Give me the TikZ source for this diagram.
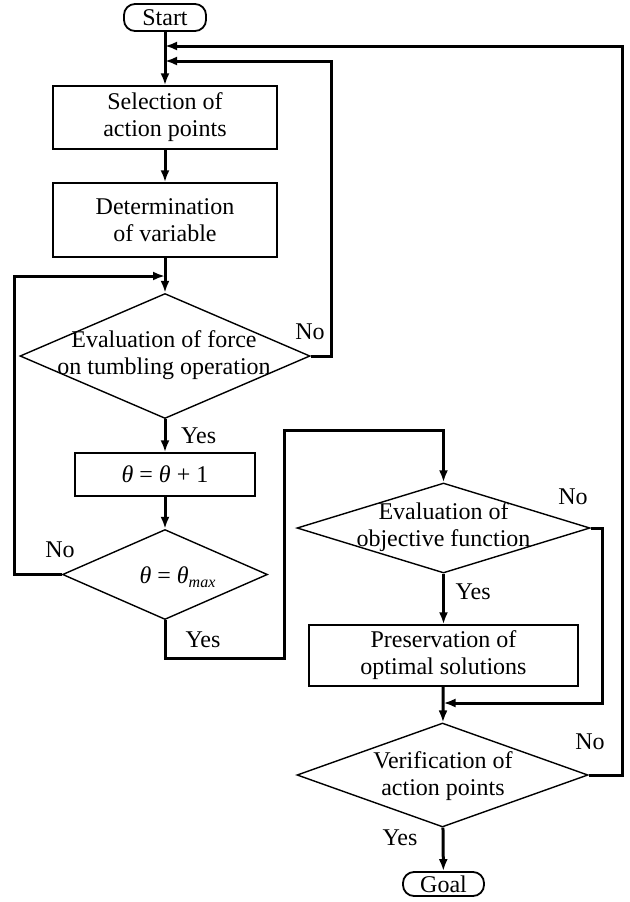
\documentclass[tikz,border=0pt]{standalone}
\usepackage{fontspec}
\setmainfont{Liberation Serif}
\usetikzlibrary{arrows.meta,shapes.geometric}

\begin{document}
\begin{tikzpicture}[x=0.5pt, y=-0.5pt, auto,
	font=\fontsize{12}{13.5}\selectfont,
	>={Latex[length=6pt,width=4.5pt]},
	terminal/.style={draw, line width=0.9pt, rounded corners=5.5pt, inner sep=0pt},
	process/.style={draw, line width=0.7pt, inner sep=0pt},
	decision/.style={diamond, draw, line width=0.7pt, inner sep=0pt},
	flow/.style={->, line width=1.5pt}]
					\useasboundingbox (0,0) rectangle (630,902);
					\node[terminal, minimum width=41pt, minimum height=13.5pt] (start) at (165,17.5) {Start};
					\node[process, minimum width=112pt, minimum height=31.5pt, align=center] (sel) at (165,117.5) {Selection of\\action points};
					\node[process, minimum width=112pt, minimum height=37pt, align=center] (det) at (165,220) {Determination\\of variable};
					\node[decision, minimum width=145pt, minimum height=62.5pt] (eva) at (165,356) {};
					\node[align=center] (evat) at (164,355) {Evaluation of force\\on tumbling operation};
					\node[process, minimum width=90pt, minimum height=21.5pt] (inc) at (165,474.5) {\textit{θ} = \textit{θ} + 1};
					\node[decision, minimum width=102.5pt, minimum height=45pt] (chk) at (165,574.5) {};
					\node (chkt) at (178,577) {\textit{θ} = \textit{θ}\textsubscript{\textit{max}}};
					\node[decision, minimum width=146.5pt, minimum height=45pt] (obj) at (443.5,528) {};
					\node[align=center] (objt) at (443.5,527) {Evaluation of\\objective function};
					\node[process, minimum width=134.5pt, minimum height=30.5pt, align=center] (pre) at (443.5,655.5) {Preservation of\\optimal solutions};
					\node[decision, minimum width=145.5pt, minimum height=52pt] (ver) at (442.5,775) {};
					\node[align=center] (vert) at (443,776) {Verification of\\action points};
					\node[terminal, minimum width=40.5pt, minimum height=12pt] (goal) at (443.5,884) {Goal};
					% labels
					\node (no1) at (310,332) {No};
					\node (no2) at (60,550) {No};
					\node (no3) at (573,497) {No};
					\node (no4) at (590,742) {No};
					\node (yes2) at (203,640) {Yes};
					\node (yes4) at (400,838) {Yes};
					% return points on the main line
					\coordinate (m1) at (165,46);
					\coordinate (m2) at (165,61);
					\coordinate (m3) at (165,276);
					\coordinate (m4) at (443.5,703);
					\draw[flow] (start) to (sel);
					\draw[flow] (sel) to (det);
					\draw[flow] (det) to (eva);
					\draw[flow] (eva) to node[xshift=4pt] {Yes}(inc);
					\draw[flow] (inc) to (chk);
					\draw[flow] (obj) to node[pos=0.35, xshift=2pt] {Yes}(pre);
					\draw[flow] (pre) to (ver);
					\draw[flow] (ver) to (goal);
					\draw[flow] (eva.east) -- ++(21,0) |- (m2);
					\draw[flow] (ver.east) -- ++(33.5,0) |- (m1);
					\draw[flow] (chk.west) -- ++(-47,0) |- (m3);
					\draw[flow] (obj.east) -- ++(12,0) |- (m4);
					\draw[flow] (chk.south) -- ++(0,38) -- ++(119,0) -- ++(0,-228) -| (obj.north);
				\end{tikzpicture}
\end{document}
